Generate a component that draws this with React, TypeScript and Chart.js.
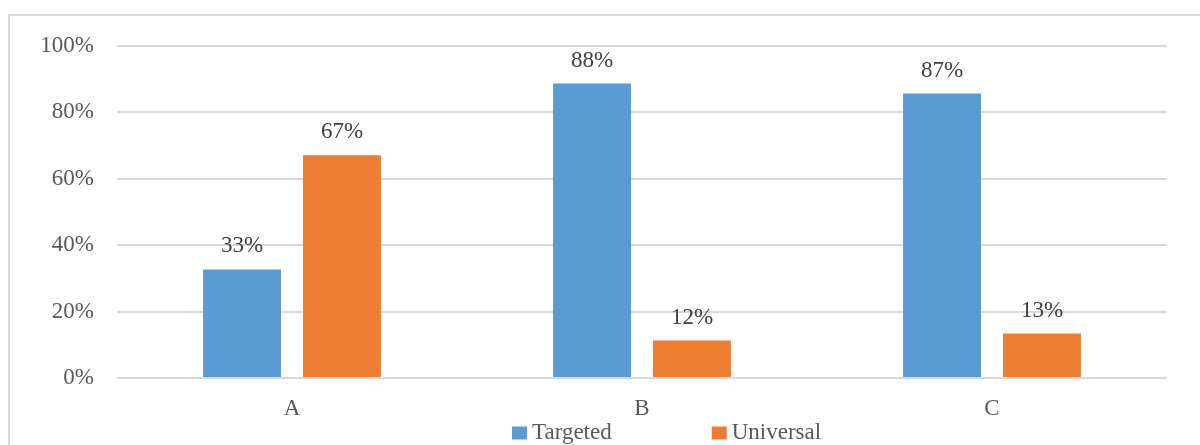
import React, { useEffect, useRef } from "react";
import { Chart, registerables } from "chart.js";

Chart.register(...registerables);

const categories = ["A", "B", "C"];
const seriesNames = ["Targeted", "Universal"];
const targetedValues = [0.327, 0.887, 0.857];
const universalValues = [0.671, 0.113, 0.134];
const targetedLabels = ["33%", "88%", "87%"];
const universalLabels = ["67%", "12%", "13%"];
const yTicks = [0, 0.2, 0.4, 0.6, 0.8, 1.0];

const BLUE = "#5B9BD5";
const ORANGE = "#ED7D31";
const FONT = "'Liberation Serif', 'Times New Roman', serif";
const FS = 23;

export default function App() {
  const ref = useRef<HTMLCanvasElement | null>(null);

  useEffect(() => {
    if (!ref.current) return;
    const labelSets = [targetedLabels, universalLabels];

    const frame = {
      id: "frame",
      beforeDraw(chart: any) {
        const ctx = chart.ctx;
        ctx.save();
        ctx.fillStyle = "#ffffff";
        ctx.fillRect(0, 0, chart.width, chart.height);
        ctx.strokeStyle = "#d9d9d9";
        ctx.lineWidth = 2;
        ctx.strokeRect(9, 15, 1400, 600);
        ctx.restore();
      },
    };

    const dataLabels = {
      id: "dataLabels",
      afterDatasetsDraw(chart: any) {
        const ctx = chart.ctx;
        ctx.save();
        ctx.font = `${FS}px ${FONT}`;
        ctx.fillStyle = "#404040";
        ctx.textAlign = "center";
        ctx.textBaseline = "middle";
        chart.data.datasets.forEach((ds: any, i: number) => {
          const meta = chart.getDatasetMeta(i);
          meta.data.forEach((bar: any, j: number) => {
            ctx.fillText(labelSets[i][j], bar.x, bar.y - 23);
          });
        });
        ctx.restore();
      },
    };

    const customLegend = {
      id: "customLegend",
      afterDraw(chart: any) {
        const ctx = chart.ctx;
        ctx.save();
        ctx.font = `${FS}px ${FONT}`;
        ctx.textBaseline = "middle";
        ctx.textAlign = "left";
        let x = 512;
        const y = 433;
        chart.data.datasets.forEach((ds: any) => {
          ctx.fillStyle = ds.backgroundColor;
          ctx.fillRect(x, y - 6.5, 15, 13);
          ctx.fillStyle = "#595959";
          ctx.fillText(ds.label, x + 20, y);
          const w = ctx.measureText(ds.label).width;
          x += 20 + w + 100;
        });
        ctx.restore();
      },
    };

    const chart = new Chart(ref.current, {
      type: "bar",
      data: {
        labels: categories,
        datasets: [
          {
            label: seriesNames[0],
            data: targetedValues,
            backgroundColor: BLUE,
            borderWidth: 0,
            categoryPercentage: 0.571,
            barPercentage: 0.78,
          },
          {
            label: seriesNames[1],
            data: universalValues,
            backgroundColor: ORANGE,
            borderWidth: 0,
            categoryPercentage: 0.571,
            barPercentage: 0.78,
          },
        ],
      },
      options: {
        responsive: false,
        animation: false,
        layout: { padding: { left: 0, right: 33, top: 46, bottom: 0 } },
        plugins: {
          legend: { display: false },
          tooltip: { enabled: false },
        },
        scales: {
          x: {
            grid: { display: false, drawTicks: false },
            border: { display: false },
            ticks: {
              font: { family: FONT, size: FS },
              color: "#595959",
              padding: 17,
            },
            afterFit(scale: any) {
              scale.height = 67;
            },
          },
          y: {
            min: 0,
            max: 1,
            afterBuildTicks(scale: any) {
              scale.ticks = yTicks.map((v) => ({ value: v }));
            },
            grid: { color: "#d9d9d9", lineWidth: 2, drawTicks: false },
            border: { display: false },
            ticks: {
              font: { family: FONT, size: FS },
              color: "#595959",
              padding: 23,
              callback: (v: any) => `${Math.round(Number(v) * 100)}%`,
            },
            afterFit(scale: any) {
              scale.width = 117;
            },
          },
        },
      },
      plugins: [frame, dataLabels, customLegend],
    });
    return () => chart.destroy();
  }, []);

  return (
    <div style={{ position: "fixed", left: 0, top: 0, width: 1200, height: 445, background: "#fff" }}>
      <canvas ref={ref} width={1200} height={445} style={{ width: 1200, height: 445, display: "block" }} />
    </div>
  );
}
